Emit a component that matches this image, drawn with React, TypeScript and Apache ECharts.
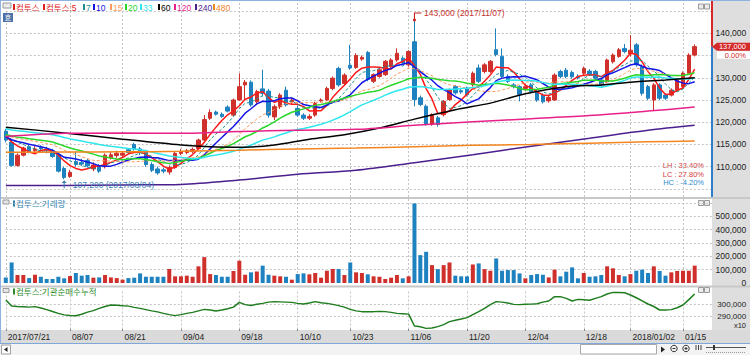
import React, { useEffect, useRef } from 'react';
import * as echarts from 'echarts';

const dates = [
  '2017/07/21','2017/07/24','2017/07/25','2017/07/26','2017/07/27','2017/07/28','2017/07/31',
  '2017/08/01','2017/08/02','2017/08/03','2017/08/04',
  '2017/08/07','2017/08/08','2017/08/09','2017/08/10','2017/08/11',
  '2017/08/14','2017/08/16','2017/08/17','2017/08/18',
  '2017/08/21','2017/08/22','2017/08/23','2017/08/24','2017/08/25',
  '2017/08/28','2017/08/29','2017/08/30','2017/08/31',
  '2017/09/01',
  '2017/09/04','2017/09/05','2017/09/06','2017/09/07','2017/09/08',
  '2017/09/11','2017/09/12','2017/09/13','2017/09/14','2017/09/15',
  '2017/09/18','2017/09/19','2017/09/20','2017/09/21','2017/09/22',
  '2017/09/25','2017/09/26','2017/09/27','2017/09/28','2017/09/29',
  '2017/10/10','2017/10/11','2017/10/12','2017/10/13',
  '2017/10/16','2017/10/17','2017/10/18','2017/10/19','2017/10/20',
  '2017/10/23','2017/10/24','2017/10/25','2017/10/26','2017/10/27',
  '2017/10/30','2017/10/31',
  '2017/11/01','2017/11/02','2017/11/03',
  '2017/11/06','2017/11/07','2017/11/08','2017/11/09','2017/11/10',
  '2017/11/13','2017/11/14','2017/11/15','2017/11/16','2017/11/17',
  '2017/11/20','2017/11/21','2017/11/22','2017/11/23','2017/11/24',
  '2017/11/27','2017/11/28','2017/11/29','2017/11/30',
  '2017/12/01',
  '2017/12/04','2017/12/05','2017/12/06','2017/12/07','2017/12/08',
  '2017/12/11','2017/12/12','2017/12/13','2017/12/14','2017/12/15',
  '2017/12/18','2017/12/19','2017/12/20','2017/12/21','2017/12/22',
  '2017/12/26','2017/12/27','2017/12/28',
  '2018/01/02','2018/01/03','2018/01/04','2018/01/05',
  '2018/01/08','2018/01/09','2018/01/10','2018/01/11','2018/01/12',
  '2018/01/15','2018/01/16','2018/01/17',
];

const opens = [
  118000,115500,110300,112600,114500,113600,114300,114000,113500,112700,
  109600,107800,111200,111000,111400,109500,110200,110000,112000,112500,
  112600,113800,115000,114000,113500,110500,109500,109300,108800,109800,
  113000,113200,113400,114100,116000,120900,122300,121800,123400,121600,
  125000,128400,129000,124600,127500,127000,121200,123500,127200,124600,
  123100,121600,120900,121600,124800,125000,127600,132100,128700,132800,
  132300,134200,135700,129200,130300,130700,132500,134000,134400,132900,
  138100,125500,123600,119500,121000,121700,125100,128000,127100,127700,
  128400,132200,131400,131400,136300,134800,130300,128400,128000,127600,
  128400,126900,126100,124800,125000,131400,131700,131200,130300,131000,
  131500,131400,129500,129100,133600,134800,136600,135400,137400,132500,
  128000,125000,128400,126100,126100,127200,128000,131000,135100,
];
const closes = [
  116000,110300,112600,114200,113500,114000,114000,113600,112300,109000,
  107600,108700,110500,110600,110200,110400,109000,112600,112700,113000,
  113000,113200,114000,113400,110500,109200,108600,109000,109800,113000,
  113400,113600,113900,116000,120600,122200,121800,121300,122500,125000,
  128000,129000,123900,126900,126500,121600,123500,126100,123900,125000,
  121600,120900,121300,124200,125000,127600,129900,128400,130600,132200,
  135000,134600,129600,130700,131800,133700,134000,135500,133300,135900,
  125100,124000,119500,121700,119500,124700,127300,126600,126800,126200,
  131000,129200,132900,133700,135200,130300,129200,128000,126200,128000,
  126900,125000,124600,125600,130600,130300,130300,130200,130000,132100,
  130800,129900,128400,134000,135100,136300,135900,136200,132900,126500,
  125400,128400,125400,125400,127200,129500,131000,135100,137000,
];
const lows = [
  115500,110000,110000,112300,113000,113300,113200,113000,112000,108700,
  107200,107500,110000,110200,109800,109000,108600,109600,111600,112000,
  112200,112800,113600,112600,110000,108800,108200,108500,108200,109500,
  112600,112800,113000,113800,115800,120500,121500,121000,122200,121300,
  124800,125000,123500,124200,125800,121000,120500,123000,123500,124000,
  121200,120500,120500,121200,124500,124800,127200,128000,128400,131800,
  132000,133800,129200,128800,130000,130400,132200,133600,133000,132500,
  123600,123600,119200,119200,119000,121300,124800,126200,126400,125800,
  128000,128800,131000,131000,134800,130000,128800,127600,124700,127200,
  126500,124600,124200,124400,124800,129900,129900,129800,129600,130600,
  130400,129500,128000,128800,133200,134500,135500,134800,132500,126000,
  125000,122700,125000,125000,125800,126800,127600,130600,134800,
];
const highs = [
  118500,116000,113000,114500,115000,114600,114800,114500,114000,113000,
  110000,109300,113400,111800,111800,111000,110600,113000,113300,113600,
  113500,114200,115400,114400,113800,111000,110000,109800,110300,113500,
  114000,114000,114300,116300,121600,122900,122600,122200,123800,125300,
  131000,129500,129400,127300,131800,127500,124000,126500,128000,125600,
  123800,122000,121800,124600,125400,128000,130300,132500,131000,137400,
  135500,135000,136000,131000,132200,134000,134400,136600,134800,136200,
  143000,126000,124000,122000,121400,125000,127600,128400,127500,128000,
  131400,133000,133300,134000,141100,136600,130800,128800,128300,128500,
  128800,127200,126500,126000,131000,131800,132200,131600,130800,132500,
  131900,131800,129900,134300,135500,136700,137600,139600,137800,133000,
  128400,128800,128800,126500,127600,129900,131400,135500,137500,
];
const volumes = [
  42000,154000,60000,60000,37000,62000,47000,30000,30000,47000,
  35000,52000,75000,55000,60000,40000,42000,60000,42000,37000,
  25000,37000,40000,72000,47000,47000,47000,47000,105000,50000,
  50000,55000,47000,125000,194000,67000,60000,47000,47000,90000,
  167000,62000,80000,87000,130000,62000,55000,50000,47000,25000,
  67000,72000,65000,75000,40000,92000,105000,105000,60000,154000,
  80000,75000,65000,50000,47000,30000,40000,60000,35000,50000,
  597000,209000,234000,134000,104000,134000,154000,55000,50000,50000,
  139000,147000,104000,92000,184000,92000,97000,97000,72000,35000,
  60000,67000,62000,42000,100000,50000,85000,117000,35000,75000,
  47000,50000,60000,125000,110000,60000,50000,67000,92000,100000,
  75000,125000,90000,55000,80000,90000,92000,92000,130000,
];
// 기관순매수누적 (x10)
const instCum = [
  303200,298400,298000,297800,297500,297900,296800,295500,294000,292500,
  291300,290800,290600,291800,293500,294700,296500,298000,299200,299000,
  298600,298300,297300,296500,295500,294500,293700,292500,291500,290700,
  291500,292500,293300,294500,295700,295200,294400,295200,296200,297500,
  301300,299500,298800,299800,300500,301500,301900,301700,301500,301300,
  300500,300000,300800,301900,301000,300500,299700,298700,297500,295700,
  294500,293900,293900,293900,294000,293900,293300,292500,292200,291900,
  282400,281800,280500,280800,281900,283500,285900,287000,288000,289100,
  291500,293900,296500,299500,301900,301500,300800,299700,299500,299800,
  299900,300200,301500,302400,305900,305900,304500,302400,303700,303400,
  303000,304500,305900,308000,309300,309200,309000,307200,305000,302500,
  300000,298000,295200,295200,295500,297000,299200,303500,308000,
];

// short moving averages: periods and the price level before the first date (read where each line starts)
const shortMaPeriods = [5, 7, 10, 15, 20, 33];
const shortMaStartLevel = [117200, 117300, 116800, 117200, 117300, 118600];

// long moving averages at these dates (indices)
const ma60At = [0, 10, 20, 30, 35, 41, 46, 52, 58, 64, 70, 77, 83, 89, 96, 102, 108, 113, 118];
const ma60Val = [118900, 117600, 116200, 114900, 114500, 114400, 114900, 116200, 117200, 118700, 120700, 122800, 124300, 126400, 128000, 128400, 129100, 129500, 130000];
const longAt = [0, 10, 20, 30, 40, 50, 60, 70, 80, 90, 100, 110, 118];
const ma120Val = [116800, 117500, 117600, 117500, 117900, 118200, 118400, 119300, 120100, 120800, 121500, 122500, 123400];
const ma240Val = [105750, 105800, 105900, 106000, 107000, 108300, 109200, 110900, 112700, 114600, 116400, 118200, 119300];
const ma480Val = [113250, 113300, 113350, 113450, 113700, 114000, 114200, 114500, 114800, 115000, 115300, 115600, 115800];

const xLabelDates = ['2017/07/21','2017/08/07','2017/08/21','2017/09/04','2017/09/18','2017/10/10','2017/10/23','2017/11/06','2017/11/20','2017/12/04','2017/12/18','2018/01/02','2018/01/15'];
const xLabelTexts = ['2017/07/21','08/07','08/21','09/04','09/18','10/10','10/23','11/06','11/20','12/04','12/18','2018/01/02','01/15'];
const priceTickLabels = [110000, 115000, 120000, 125000, 130000, 140000];
const volumeTickLabels = [0, 100000, 200000, 300000, 400000, 500000];
const instTickLabels = [290000, 300000];

const legendNames = ['컴투스', '컴투스:5', '7', '10', '15', '20', '33', '60', '120', '240', '480'];

const FONT = '"Liberation Sans", "Noto Sans CJK KR", sans-serif';
const RED = '#d0302c';
const BLUE = '#1f82c0';
const C = {
  ma5: '#ff1a1a', ma7: '#1a9090', ma10: '#1515e6', ma15: '#ff9a5c', ma20: '#2bd62b',
  ma33: '#2ee6ee', ma60: '#000000', ma120: '#e8218a', ma240: '#4b1f8f', ma480: '#f5861f',
};
const legendColors = ['#e02020', '#e02020', C.ma7, C.ma10, C.ma15, C.ma20, C.ma33, C.ma60, C.ma120, C.ma240, C.ma480];
const legendX = [13, 43, 83, 93, 110, 125, 140, 158, 174, 195, 213];

const fmt = (v: number) => Math.round(v).toLocaleString('en-US');

function movingAverage(n: number, startLevel: number) {
  return closes.map((_, i) => {
    let s = 0;
    for (let k = i - n + 1; k <= i; k++) s += k >= 0 ? closes[k] : startLevel;
    return Math.round(s / n);
  });
}
function sparse(at: number[], vals: number[]) {
  const arr: (number | null)[] = dates.map(() => null);
  at.forEach((idx, j) => { arr[idx] = vals[j]; });
  return arr;
}

export default function App() {
  const ref = useRef<HTMLDivElement>(null);
  useEffect(() => {
    if (!ref.current) return;
    const chart = echarts.init(ref.current, null, { renderer: 'svg' });
    const labelSet = new Set(xLabelDates);
    const labelMap: Record<string, string> = {};
    xLabelDates.forEach((d, i) => { labelMap[d] = xLabelTexts[i]; });
    const xCats = [...dates, ' ', '  ', '   '];
    const inter = (_i: number, v: string) => labelSet.has(v);

    const splitX = { show: true, interval: inter, lineStyle: { color: '#c4c4c4', type: [2, 2], width: 1 } };
    const makeX = (gridIndex: number, labels: boolean) => ({
      type: 'category', gridIndex, data: xCats, boundaryGap: false,
      axisLine: { show: false },
      axisTick: { show: labels, interval: inter, length: 2, lineStyle: { color: '#888' } },
      axisLabel: {
        show: labels, interval: inter, formatter: (v: string) => labelMap[v] || '',
        align: 'left', margin: 4, padding: [0, 0, 0, 2], fontSize: 8.5, color: '#222', fontFamily: FONT,
      },
      splitLine: splitX,
    });
    const splitY = { show: true, lineStyle: { color: '#c4c4c4', type: [2, 2], width: 1 } };

    let hiIdx = 0, loIdx = 0;
    highs.forEach((h, i) => { if (h > highs[hiIdx]) hiIdx = i; });
    lows.forEach((l, i) => { if (l < lows[loIdx]) loIdx = i; });
    const hi = highs[hiIdx], lo = lows[loIdx], last = closes[closes.length - 1];
    const pct = (v: number) => v.toFixed(2) + '%';

    const maSeries = shortMaPeriods.map((n, j) => {
      const key = ('ma' + n) as keyof typeof C;
      const dashed = n === 7 || n === 15;
      return {
        type: 'line', name: String(n), xAxisIndex: 0, yAxisIndex: 0,
        data: movingAverage(n, shortMaStartLevel[j]), symbol: 'none', smooth: false,
        lineStyle: { color: C[key], width: dashed ? 1 : 1.5, type: dashed ? [3, 2] : 'solid' },
        z: 3,
      };
    });
    const longSeries = [
      ['60', ma60At, ma60Val, C.ma60],
      ['120', longAt, ma120Val, C.ma120],
      ['240', longAt, ma240Val, C.ma240],
      ['480', longAt, ma480Val, C.ma480],
    ].map(([name, at, vals, color]) => ({
      type: 'line', name, xAxisIndex: 0, yAxisIndex: 0,
      data: sparse(at as number[], vals as number[]), connectNulls: true, symbol: 'none',
      smooth: 0.3, lineStyle: { color, width: 1.5 }, z: 3,
    }));

    const small = 7.5;
    const staticGraphics: any[] = [
      { id: 'bgR', type: 'rect', z: -10, silent: true, shape: { x: 712, y: 1, width: 38, height: 330 }, style: { fill: '#dedede' } },
      { id: 'sep1', type: 'rect', z: -5, silent: true, shape: { x: 1, y: 197, width: 749, height: 2 }, style: { fill: '#c8c8c8' } },
      { id: 'sep2', type: 'rect', z: -5, silent: true, shape: { x: 1, y: 285.5, width: 749, height: 2 }, style: { fill: '#c8c8c8' } },
      { id: 'xstrip', type: 'rect', z: -10, silent: true, shape: { x: 1, y: 330, width: 749, height: 13 }, style: { fill: '#dadada' } },
      { id: 'bot', type: 'rect', z: -10, silent: true, shape: { x: 0, y: 343, width: 750, height: 12 }, style: { fill: '#f3f3f3' } },
      { id: 'botl', type: 'line', silent: true, shape: { x1: 0, y1: 343.5, x2: 750, y2: 343.5 }, style: { stroke: '#7fa8d8', lineWidth: 1 } },
      { id: 'frT', type: 'line', silent: true, shape: { x1: 0, y1: 0.5, x2: 750, y2: 0.5 }, style: { stroke: '#8fb3e0', lineWidth: 1 } },
      { id: 'frL', type: 'line', silent: true, shape: { x1: 0.5, y1: 0, x2: 0.5, y2: 343 }, style: { stroke: '#8fb3e0', lineWidth: 1 } },
      // small window icons
      { id: 'ic0', type: 'rect', shape: { x: 3, y: 3, width: 8, height: 5 }, style: { fill: '#eeeeee', stroke: '#999', lineWidth: 1 } },
      { id: 'ic1', type: 'rect', shape: { x: 3, y: 13, width: 10, height: 9 }, style: { fill: '#4d72a8' } },
      { id: 'ic1t', type: 'text', style: { x: 8, y: 17.5, text: '호', fill: '#fff', fontSize: 7, fontFamily: FONT, align: 'center', verticalAlign: 'middle' } },
      { id: 'ic2', type: 'rect', shape: { x: 3, y: 200, width: 6, height: 4 }, style: { fill: '#e6e6e6', stroke: '#999', lineWidth: 1 } },
      { id: 'ic3', type: 'rect', shape: { x: 3, y: 288.5, width: 6, height: 4 }, style: { fill: '#e6e6e6', stroke: '#999', lineWidth: 1 } },
      ...[4, 200.5, 287.5].flatMap((y, k) => [
        { id: 'pa' + k, type: 'rect', shape: { x: 698.5, y, width: 5, height: 5 }, style: { fill: '#ececec', stroke: '#9a9a9a', lineWidth: 1 } },
        { id: 'pb' + k, type: 'rect', shape: { x: 704.5, y, width: 5, height: 5 }, style: { fill: '#ececec', stroke: '#9a9a9a', lineWidth: 1 } },
      ]),
      // top legend
      ...legendNames.flatMap((name, k) => [
        { id: 'lm' + k, type: 'rect', shape: { x: legendX[k], y: 4, width: 2, height: 6 }, style: { fill: legendColors[k] } },
        { id: 'lt' + k, type: 'text', style: { x: legendX[k] + 3, y: 7.5, text: name, fill: legendColors[k], fontSize: 8.5, fontFamily: FONT, verticalAlign: 'middle' } },
      ]),
      { id: 'vm', type: 'rect', shape: { x: 13, y: 200.5, width: 2, height: 6 }, style: { fill: '#2a82ae' } },
      { id: 'vt', type: 'text', style: { x: 16, y: 203.5, text: '컴투스:거래량', fill: '#2a82ae', fontSize: 8.5, fontFamily: FONT, verticalAlign: 'middle' } },
      { id: 'im', type: 'rect', shape: { x: 13, y: 288.5, width: 2, height: 6 }, style: { fill: '#2b8a2b' } },
      { id: 'it', type: 'text', style: { x: 16, y: 291.5, text: '컴투스:기관순매수누적', fill: '#2b8a2b', fontSize: 8.5, fontFamily: FONT, verticalAlign: 'middle' } },
      // LH LC HC
      { id: 'lh', type: 'text', style: { x: 704, y: 165.8, text: 'LH : ' + pct((hi - lo) / lo * 100), fill: '#d43c3c', fontSize: small, fontFamily: FONT, align: 'right', verticalAlign: 'middle' } },
      { id: 'lc', type: 'text', style: { x: 704, y: 174.2, text: 'LC : ' + pct((last - lo) / lo * 100), fill: '#d43c3c', fontSize: small, fontFamily: FONT, align: 'right', verticalAlign: 'middle' } },
      { id: 'hc', type: 'text', style: { x: 704, y: 182.6, text: 'HC : ' + pct((last - hi) / hi * 100), fill: '#2a8ad0', fontSize: small, fontFamily: FONT, align: 'right', verticalAlign: 'middle' } },
      { id: 'x10', type: 'text', style: { x: 746, y: 325, text: 'x10', fill: '#222', fontSize: small, fontFamily: FONT, align: 'right', verticalAlign: 'middle' } },
      // bottom scroll bar
      { id: 'sb0', type: 'rect', shape: { x: 1.5, y: 345, width: 9, height: 9 }, style: { fill: '#fff', stroke: '#a0a0a0', lineWidth: 1 } },
      { id: 'sb0a', type: 'polygon', shape: { points: [[4, 349.5], [7.5, 347], [7.5, 352]] }, style: { fill: '#222' } },
      { id: 'sb1', type: 'rect', shape: { x: 580.5, y: 344.5, width: 76, height: 9.5 }, style: { fill: '#fff', stroke: '#a8a8a8', lineWidth: 1 } },
      { id: 'sb2', type: 'polygon', shape: { points: [[661, 346.5], [665, 349.5], [661, 352.5]] }, style: { fill: '#222' } },
      { id: 'sb3', type: 'circle', shape: { cx: 674, cy: 348.5, r: 3.2 }, style: { fill: 'none', stroke: '#333', lineWidth: 1 } },
      { id: 'sb4', type: 'circle', shape: { cx: 686, cy: 348.5, r: 3.2 }, style: { fill: 'none', stroke: '#333', lineWidth: 1 } },
      { id: 'sb5', type: 'line', shape: { x1: 672.5, y1: 348.5, x2: 675.5, y2: 348.5 }, style: { stroke: '#333' } },
      { id: 'sb6', type: 'line', shape: { x1: 684.5, y1: 348.5, x2: 687.5, y2: 348.5 }, style: { stroke: '#333' } },
      { id: 'sb7', type: 'line', shape: { x1: 686, y1: 347, x2: 686, y2: 350 }, style: { stroke: '#333' } },
      ...[696, 698.5, 701].map((x, k) => ({ id: 'sb8' + k, type: 'line', shape: { x1: x, y1: 345, x2: x, y2: 350 }, style: { stroke: '#444' } })),
      { id: 'sb9', type: 'line', shape: { x1: 706, y1: 347.5, x2: 746, y2: 347.5 }, style: { stroke: '#555' } },
      { id: 'sb10', type: 'line', shape: { x1: 706, y1: 352.5, x2: 746, y2: 352.5 }, style: { stroke: '#999', lineDash: [1, 1] } },
      { id: 'sb11', type: 'rect', shape: { x: 713, y: 345, width: 2, height: 5 }, style: { fill: '#333' } },
    ];

    const option: any = {
      animation: false,
      textStyle: { fontFamily: FONT },
      grid: [
        { left: 5.8, right: 37.8, top: 3, height: 194, outerBoundsMode: 'none' },
        { left: 5.8, right: 37.8, top: 199, height: 84, outerBoundsMode: 'none' },
        { left: 5.8, right: 37.8, top: 291.5, height: 37.5, outerBoundsMode: 'none' },
      ],
      xAxis: [makeX(0, false), makeX(1, false), makeX(2, true)],
      yAxis: [
        {
          type: 'value', gridIndex: 0, position: 'right', min: 103190, max: 146810,
          splitNumber: 8, minInterval: 5000, maxInterval: 5000, scale: true,
          axisLine: { show: false }, axisTick: { show: false },
          axisLabel: { margin: 34, align: 'right', fontSize: 8.5, color: '#222', formatter: (v: number) => priceTickLabels.includes(v) ? fmt(v) : '' },
          splitLine: { ...splitY, showMinLine: false, showMaxLine: false },
        },
        {
          type: 'value', gridIndex: 1, position: 'right', min: 0, max: 630000, interval: 100000,
          axisLine: { show: false }, axisTick: { show: false },
          axisLabel: { margin: 34, align: 'right', fontSize: 8.5, color: '#222', formatter: (v: number) => volumeTickLabels.includes(v) ? fmt(v) : '' },
          splitLine: { ...splitY, showMinLine: false, showMaxLine: false },
        },
        {
          type: 'value', gridIndex: 2, position: 'right', min: 280000, max: 310000, interval: 10000,
          axisLine: { show: false }, axisTick: { show: false },
          axisLabel: { margin: 34, align: 'right', fontSize: 8, color: '#222', formatter: (v: number) => instTickLabels.includes(v) ? fmt(v) : '' },
          splitLine: { ...splitY, showMinLine: false, showMaxLine: false },
        },
      ],
      series: [
        {
          type: 'candlestick', name: '컴투스', xAxisIndex: 0, yAxisIndex: 0, barWidth: 4, clip: false,
          data: dates.map((_, i) => [opens[i], closes[i], lows[i], highs[i]]),
          itemStyle: { color: RED, color0: BLUE, borderColor: RED, borderColor0: BLUE, borderWidth: 1 },
          z: 2,
          markPoint: {
            silent: true, animation: false,
            data: [
              {
                coord: [hiIdx, hi], symbol: 'circle', symbolSize: 3, itemStyle: { color: '#c8201c' },
                label: { show: true, position: 'right', distance: 5, offset: [3, -7], formatter: `${fmt(hi)} (${dates[hiIdx]})`, color: '#c4302b', fontSize: 8.5, fontFamily: FONT },
              },
              {
                coord: [hiIdx, hi], symbol: 'path://M0,8L0,0L8,0', symbolSize: [7, 6], symbolOffset: [3.5, -4], symbolKeepAspect: false,
                itemStyle: { color: 'none', borderColor: '#c8201c', borderWidth: 1 }, label: { show: false },
              },
              {
                coord: [loIdx, lo], symbol: 'path://M5,0L10,5L6,5L6,14L4,14L4,5L0,5Z', symbolSize: [5, 8], symbolOffset: [0, 5],
                itemStyle: { color: '#3a7fb5' },
                label: { show: true, position: 'right', distance: 5, offset: [1, 1], formatter: `${fmt(lo)} (${dates[loIdx]})`, color: '#3a7fb5', fontSize: 8.5, fontFamily: FONT },
              },
            ],
          },
        },
        ...maSeries,
        ...longSeries,
        {
          type: 'bar', name: '컴투스:거래량', xAxisIndex: 1, yAxisIndex: 1, barWidth: 4, clip: false,
          data: volumes.map((v, i) => ({ value: v, itemStyle: { color: closes[i] >= opens[i] ? RED : BLUE } })),
        },
        {
          type: 'line', name: '컴투스:기관순매수누적', xAxisIndex: 2, yAxisIndex: 2, data: instCum,
          symbol: 'none', lineStyle: { color: '#1f7d1f', width: 1.5 },
        },
      ],
      graphic: { elements: staticGraphics },
    };
    chart.setOption(option);

    const yPx = chart.convertToPixel({ yAxisIndex: 0 }, last) as unknown as number;
    const dyn: any[] = [
      { id: 'axR', type: 'line', z: 50, shape: { x1: 712, y1: 1, x2: 712, y2: yPx }, style: { stroke: '#d42a2a', lineWidth: 2 } },
      { id: 'axB', type: 'line', z: 50, shape: { x1: 712, y1: yPx, x2: 712, y2: 197 }, style: { stroke: '#2f7fc8', lineWidth: 2 } },
      { id: 'ptr', type: 'polygon', z: 50, shape: { points: [[712, yPx], [717, yPx - 4], [717, yPx + 4]] }, style: { fill: '#d42a2a' } },
      { id: 'pbox', type: 'rect', z: 50, shape: { x: 717, y: yPx - 4, width: 33, height: 8 }, style: { fill: '#d42a2a' } },
      { id: 'ptxt', type: 'text', z: 51, style: { x: 746, y: yPx, text: fmt(last), fill: '#fff', fontSize: small, fontFamily: FONT, align: 'right', verticalAlign: 'middle' } },
      { id: 'cbox', type: 'rect', z: 50, shape: { x: 717, y: yPx + 4.5, width: 33, height: 7.5 }, style: { fill: '#fff' } },
      { id: 'ctxt', type: 'text', z: 51, style: { x: 746, y: yPx + 8.6, text: '0.00%', fill: '#d42a2a', fontSize: small, fontFamily: FONT, align: 'right', verticalAlign: 'middle' } },
    ];
    chart.setOption({ graphic: { elements: dyn } });
    return () => chart.dispose();
  }, []);
  return <div ref={ref} style={{ position: 'fixed', left: 0, top: 0, width: 750, height: 355, background: '#fff' }} />;
}
